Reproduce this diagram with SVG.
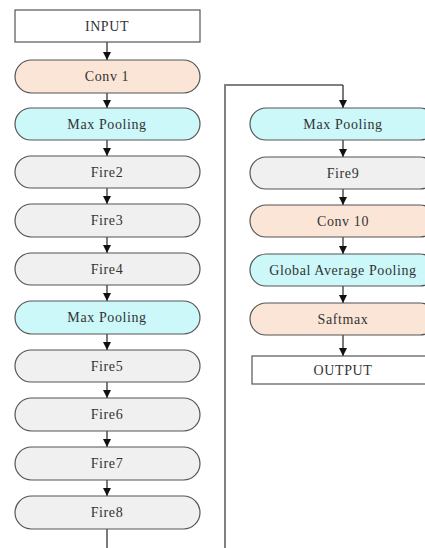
<svg xmlns="http://www.w3.org/2000/svg" width="425" height="548" viewBox="0 0 425 548">
<defs>
<marker id="ah" viewBox="0 0 8 8" refX="8" refY="4" markerWidth="8" markerHeight="8" markerUnits="userSpaceOnUse" orient="auto">
<path d="M0,0 L8,4 L0,8 Z" fill="#111"/>
</marker>
</defs>
<style>
text{font-family:"Liberation Serif","DejaVu Serif",serif;font-size:14px;fill:#333;text-anchor:middle;dominant-baseline:central;letter-spacing:0.6px}
.b{stroke:#555;stroke-width:1.2}
.w{fill:#fff}
.c{fill:#fbe5d6}
.m{fill:#ccf8fa}
.f{fill:#f0f0f0}
.e{stroke:#222;stroke-width:1.2;fill:none}
.g{stroke:#808080;stroke-width:2;fill:none}
</style>
<rect width="425" height="548" fill="#fff"/>
<g id="connectors">
<path class="e" d="M107,42 V60" marker-end="url(#ah)"/>
<path class="e" d="M107,93 V108" marker-end="url(#ah)"/>
<path class="e" d="M107,140 V156" marker-end="url(#ah)"/>
<path class="e" d="M107,188 V204" marker-end="url(#ah)"/>
<path class="e" d="M107,237 V253" marker-end="url(#ah)"/>
<path class="e" d="M107,285 V301" marker-end="url(#ah)"/>
<path class="e" d="M107,334 V350" marker-end="url(#ah)"/>
<path class="e" d="M107,382 V398" marker-end="url(#ah)"/>
<path class="e" d="M107,431 V447" marker-end="url(#ah)"/>
<path class="e" d="M107,480 V496" marker-end="url(#ah)"/>
<path class="e" d="M107,529 V548"/>
<path class="g" d="M225,548 V85 H343"/>
<path class="e" d="M343,85 V108" marker-end="url(#ah)"/>
<path class="e" d="M343,140 V157" marker-end="url(#ah)"/>
<path class="e" d="M343,189 V205" marker-end="url(#ah)"/>
<path class="e" d="M343,237 V254" marker-end="url(#ah)"/>
<path class="e" d="M343,286 V303" marker-end="url(#ah)"/>
<path class="e" d="M343,335 V356" marker-end="url(#ah)"/>
</g>
<g id="input"><rect class="b w" x="15" y="10" width="185" height="32"/><text x="107" y="26">INPUT</text></g>
<g id="conv1"><rect class="b c" x="15" y="60" width="185" height="33" rx="16.5"/><text x="107" y="76.5">Conv 1</text></g>
<g id="maxpool1"><rect class="b m" x="15" y="108" width="185" height="32" rx="16"/><text x="107" y="124">Max Pooling</text></g>
<g id="fire2"><rect class="b f" x="15" y="156" width="185" height="32" rx="16"/><text x="107" y="172">Fire2</text></g>
<g id="fire3"><rect class="b f" x="15" y="204" width="185" height="33" rx="16.5"/><text x="107" y="220.5">Fire3</text></g>
<g id="fire4"><rect class="b f" x="15" y="253" width="185" height="32" rx="16"/><text x="107" y="269">Fire4</text></g>
<g id="maxpool2"><rect class="b m" x="15" y="301" width="185" height="33" rx="16.5"/><text x="107" y="317.5">Max Pooling</text></g>
<g id="fire5"><rect class="b f" x="15" y="350" width="185" height="32" rx="16"/><text x="107" y="366">Fire5</text></g>
<g id="fire6"><rect class="b f" x="15" y="398" width="185" height="33" rx="16.5"/><text x="107" y="414.5">Fire6</text></g>
<g id="fire7"><rect class="b f" x="15" y="447" width="185" height="33" rx="16.5"/><text x="107" y="463.5">Fire7</text></g>
<g id="fire8"><rect class="b f" x="15" y="496" width="185" height="33" rx="16.5"/><text x="107" y="512.5">Fire8</text></g>
<g id="maxpool3"><rect class="b m" x="250" y="108" width="186" height="32" rx="16"/><text x="343" y="124">Max Pooling</text></g>
<g id="fire9"><rect class="b f" x="250" y="157" width="186" height="32" rx="16"/><text x="343" y="173">Fire9</text></g>
<g id="conv10"><rect class="b c" x="250" y="205" width="186" height="32" rx="16"/><text x="343" y="221">Conv 10</text></g>
<g id="gap"><rect class="b m" x="250" y="254" width="186" height="32" rx="16"/><text x="343" y="270">Global Average Pooling</text></g>
<g id="softmax"><rect class="b c" x="250" y="303" width="186" height="32" rx="16"/><text x="343" y="319">Saftmax</text></g>
<g id="output"><rect class="b w" x="252" y="356" width="186" height="28"/><text x="343" y="370">OUTPUT</text></g>
</svg>
